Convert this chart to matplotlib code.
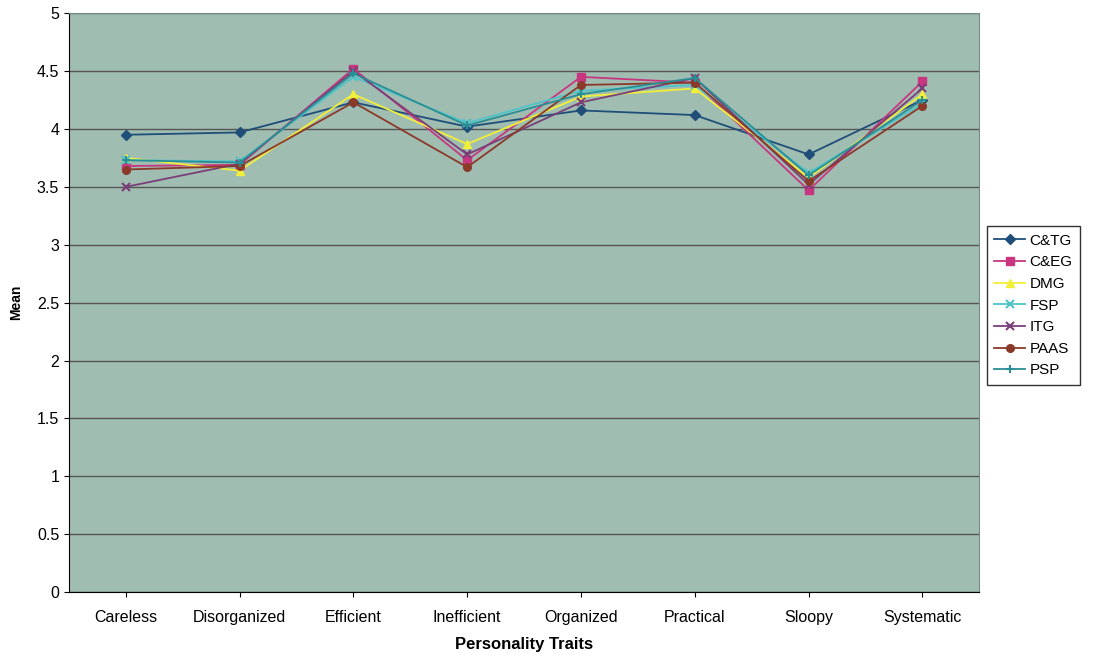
import matplotlib.pyplot as plt

plt.rcParams['font.family'] = ['Liberation Sans', 'DejaVu Sans']

# Personality trait means per group
traits = ["Careless", "Disorganized", "Efficient", "Inefficient",
          "Organized", "Practical", "Sloopy", "Systematic"]

ctg  = [3.95, 3.97, 4.23, 4.02, 4.16, 4.12, 3.78, 4.25]
ceg  = [3.68, 3.69, 4.52, 3.73, 4.45, 4.40, 3.47, 4.41]
dmg  = [3.75, 3.64, 4.30, 3.87, 4.28, 4.35, 3.58, 4.30]
fsp  = [3.73, 3.72, 4.45, 4.05, 4.33, 4.38, 3.62, 4.22]
itg  = [3.50, 3.70, 4.50, 3.78, 4.23, 4.44, 3.52, 4.35]
paas = [3.65, 3.68, 4.23, 3.67, 4.38, 4.40, 3.55, 4.20]
psp  = [3.73, 3.71, 4.48, 4.03, 4.30, 4.44, 3.60, 4.25]

series = [
    ("C&TG", ctg, "#1f4e79", "D"),
    ("C&EG", ceg, "#c8367f", "s"),
    ("DMG", dmg, "#f2ef3a", "^"),
    ("FSP", fsp, "#4fc4c8", "x"),
    ("ITG", itg, "#7a3f78", "x"),
    ("PAAS", paas, "#8b3a2a", "o"),
    ("PSP", psp, "#2a8f95", "+"),
]

fig = plt.figure(figsize=(10.93, 6.58), dpi=100)
ax = fig.add_axes([0.063, 0.1, 0.833, 0.88])
ax.set_facecolor("#a0bdb2")

x = list(range(len(traits)))
for name, vals, col, mk in series:
    ax.plot(x, vals, color=col, marker=mk, markersize=5.5, linewidth=1.3,
            markeredgewidth=1.5 if mk in "x+" else 1, label=name)

ax.set_xlim(-0.5, len(traits) - 0.5)
ax.set_ylim(0, 5)
ax.set_yticks([0, 0.5, 1, 1.5, 2, 2.5, 3, 3.5, 4, 4.5, 5])
ax.set_yticklabels(["0", "0.5", "1", "1.5", "2", "2.5", "3", "3.5", "4", "4.5", "5"])
ax.set_xticks(x)
ax.set_xticklabels(traits)
ax.yaxis.grid(True, color="#555555", linewidth=1)
ax.set_axisbelow(True)
for s in ["top", "right"]:
    ax.spines[s].set_color("#7a8a85")
ax.tick_params(labelsize=11.5)
ax.tick_params(axis="x", pad=9)

ax.set_xlabel("Personality Traits", fontsize=12, fontweight="bold", labelpad=9)
ax.set_ylabel("Mean", fontsize=10, fontweight="bold", labelpad=10)

leg = ax.legend(loc="center left", bbox_to_anchor=(1.003, 0.495), fontsize=11,
                frameon=True, fancybox=False, edgecolor="black",
                handlelength=2.0, handletextpad=0.3, labelspacing=0.5,
                borderpad=0.5, borderaxespad=0.3)
leg.get_frame().set_linewidth(1)

fig.savefig("out.png", dpi=100)
